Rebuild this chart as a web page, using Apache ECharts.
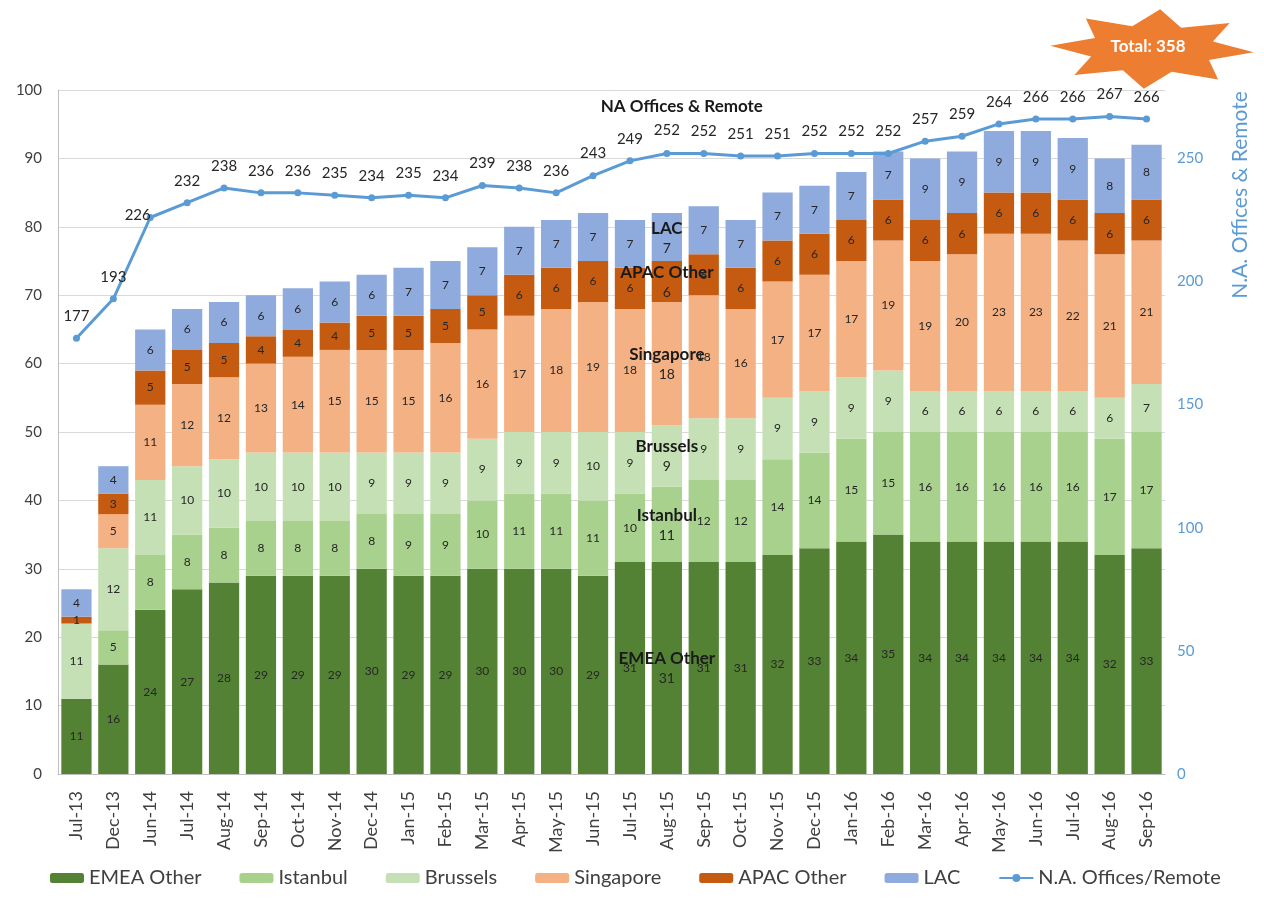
<!DOCTYPE html>
<html><head><meta charset="utf-8">
<script src="https://cdn.jsdelivr.net/npm/echarts@6/dist/echarts.min.js"></script>
<style>html,body{margin:0;padding:0;background:#fff}#c{width:1264px;height:907px}</style>
</head><body><div id="c"></div>
<script>
var categories = ['Jul-13','Dec-13','Jun-14','Jul-14','Aug-14','Sep-14','Oct-14','Nov-14','Dec-14','Jan-15','Feb-15','Mar-15','Apr-15','May-15','Jun-15','Jul-15','Aug-15','Sep-15','Oct-15','Nov-15','Dec-15','Jan-16','Feb-16','Mar-16','Apr-16','May-16','Jun-16','Jul-16','Aug-16','Sep-16'];
var emeaOther = [11,16,24,27,28,29,29,29,30,29,29,30,30,30,29,31,31,31,31,32,33,34,35,34,34,34,34,34,32,33];
var istanbul  = [0,5,8,8,8,8,8,8,8,9,9,10,11,11,11,10,11,12,12,14,14,15,15,16,16,16,16,16,17,17];
var brussels  = [11,12,11,10,10,10,10,10,9,9,9,9,9,9,10,9,9,9,9,9,9,9,9,6,6,6,6,6,6,7];
var singapore = [0,5,11,12,12,13,14,15,15,15,16,16,17,18,19,18,18,18,16,17,17,17,19,19,20,23,23,22,21,21];
var apacOther = [1,3,5,5,5,4,4,4,5,5,5,5,6,6,6,6,6,6,6,6,6,6,6,6,6,6,6,6,6,6];
var lac       = [4,4,6,6,6,6,6,6,6,7,7,7,7,7,7,7,7,7,7,7,7,7,7,9,9,9,9,9,8,8];
var naOffices = [177,193,226,232,238,236,236,235,234,235,234,239,238,236,243,249,252,252,251,251,252,252,252,257,259,264,266,266,267,266];
var leftTicks = [0,10,20,30,40,50,60,70,80,90,100];
var rightTicks = [0,50,100,150,200,250];
var totalText = 'Total: 358';
var rightAxisTitle = 'N.A. Offices & Remote';
var highlightIndex = 16;

var FONT = 'Lato, "Open Sans", sans-serif';
var chart = echarts.init(document.getElementById('c'));

function barSeries(name, vals, color) {
  return {
    name: name, type: 'bar', stack: 'total', yAxisIndex: 0,
    barCategoryGap: '18%',
    itemStyle: { color: color },
    label: {
      show: true, position: 'inside', fontFamily: FONT, fontSize: 12,
      color: '#262626',
      formatter: function (p) { return p.value ? String(p.value) : ''; }
    },
    data: vals.map(function (v, i) {
      if (i !== highlightIndex) return v;
      return {
        value: v,
        label: {
          formatter: '{n|' + name + '}\n{v|' + v + '}',
          rich: {
            n: { fontFamily: FONT, fontSize: 17, fontWeight: 'bold', color: '#1a1a1a', lineHeight: 22 },
            v: { fontFamily: FONT, fontSize: 14, color: '#262626', lineHeight: 18 }
          }
        }
      };
    }),
    z: 2
  };
}

// decorative burst for the total badge
var cx = 1152, cy = 49, pts = [];
for (var k = 0; k < 16; k++) {
  var a = -Math.PI / 2 + k * Math.PI / 8 + 0.08;
  var outer = (k % 2 === 0);
  var rx = outer ? 102 : 64, ry = outer ? 40 : 24;
  pts.push([cx + rx * Math.cos(a), cy + ry * Math.sin(a)]);
}

var option = {
  animation: false,
  textStyle: { fontFamily: FONT },
  grid: { left: 58, right: 99, top: 90, bottom: 133, containLabel: false, outerBoundsMode: 'none' },
  legend: {
    bottom: 14, left: 45, itemWidth: 34, itemHeight: 10, itemGap: 38,
    textStyle: { fontFamily: FONT, fontSize: 20, color: '#404040' },
    data: ['EMEA Other','Istanbul','Brussels','Singapore','APAC Other','LAC','N.A. Offices/Remote']
  },
  xAxis: {
    type: 'category', data: categories,
    axisLine: { lineStyle: { color: '#bfbfbf' } },
    axisTick: { show: false },
    axisLabel: { rotate: 90, fontFamily: FONT, fontSize: 18, color: '#404040', margin: 17, interval: 0 }
  },
  yAxis: [{
    type: 'value', min: 0, max: 100, interval: 10, position: 'left',
    axisLine: { show: true, lineStyle: { color: '#bfbfbf' } },
    axisTick: { show: false },
    splitLine: { lineStyle: { color: '#d9d9d9' } },
    axisLabel: { fontFamily: FONT, fontSize: 15, color: '#404040', margin: 16,
      formatter: function (v) { return leftTicks.indexOf(v) >= 0 ? String(v) : ''; } }
  }, {
    type: 'value', min: 0, max: 250 * 100 / 90, interval: 50, position: 'right',
    axisLine: { show: false }, axisTick: { show: false }, splitLine: { show: false },
    axisLabel: { fontFamily: FONT, fontSize: 15, color: '#5b9bd5', margin: 12, showMaxLabel: false,
      formatter: function (v) { return rightTicks.indexOf(v) >= 0 ? String(v) : ''; } }
  }],
  series: [
    barSeries('EMEA Other', emeaOther, '#548235'),
    barSeries('Istanbul', istanbul, '#a9d18e'),
    barSeries('Brussels', brussels, '#c5e0b4'),
    barSeries('Singapore', singapore, '#f4b183'),
    barSeries('APAC Other', apacOther, '#c55a11'),
    barSeries('LAC', lac, '#8faadc'),
    {
      name: 'N.A. Offices/Remote', type: 'line', yAxisIndex: 1,
      symbol: 'circle', symbolSize: 7,
      lineStyle: { color: '#5b9bd5', width: 3 },
      itemStyle: { color: '#5b9bd5' },
      label: { show: true, position: 'top', distance: 11, fontFamily: FONT, fontSize: 15, color: '#262626' },
      data: naOffices.map(function (v, i) {
        if (i === 2) {
          return { value: v, label: { position: 'left', distance: -4, offset: [0, -2] } };
        }
        if (i !== highlightIndex) return v;
        return {
          value: v,
          label: {
            formatter: '{n|NA Offices & Remote}\n{v|' + v + '}',
            rich: {
              n: { fontFamily: FONT, fontSize: 17, fontWeight: 'bold', color: '#1a1a1a', lineHeight: 28, padding: [0, 0, 0, 30] },
              v: { fontFamily: FONT, fontSize: 15, color: '#262626', lineHeight: 18 }
            }
          }
        };
      }),
      z: 5
    }
  ],
  graphic: [
    { type: 'text', x: 1240, y: 195, rotation: Math.PI / 2,
      style: { text: rightAxisTitle, fill: '#5b9bd5', font: '21px ' + FONT, align: 'center', verticalAlign: 'middle' } },
    { type: 'polygon', shape: { points: pts }, style: { fill: '#ed7d31' }, z: 10 },
    { type: 'text', x: 1148, y: 47, style: { text: totalText, fill: '#ffffff', font: 'bold 17px ' + FONT, align: 'center', verticalAlign: 'middle' }, z: 11 }
  ]
};
chart.setOption(option);
</script>
</body></html>
